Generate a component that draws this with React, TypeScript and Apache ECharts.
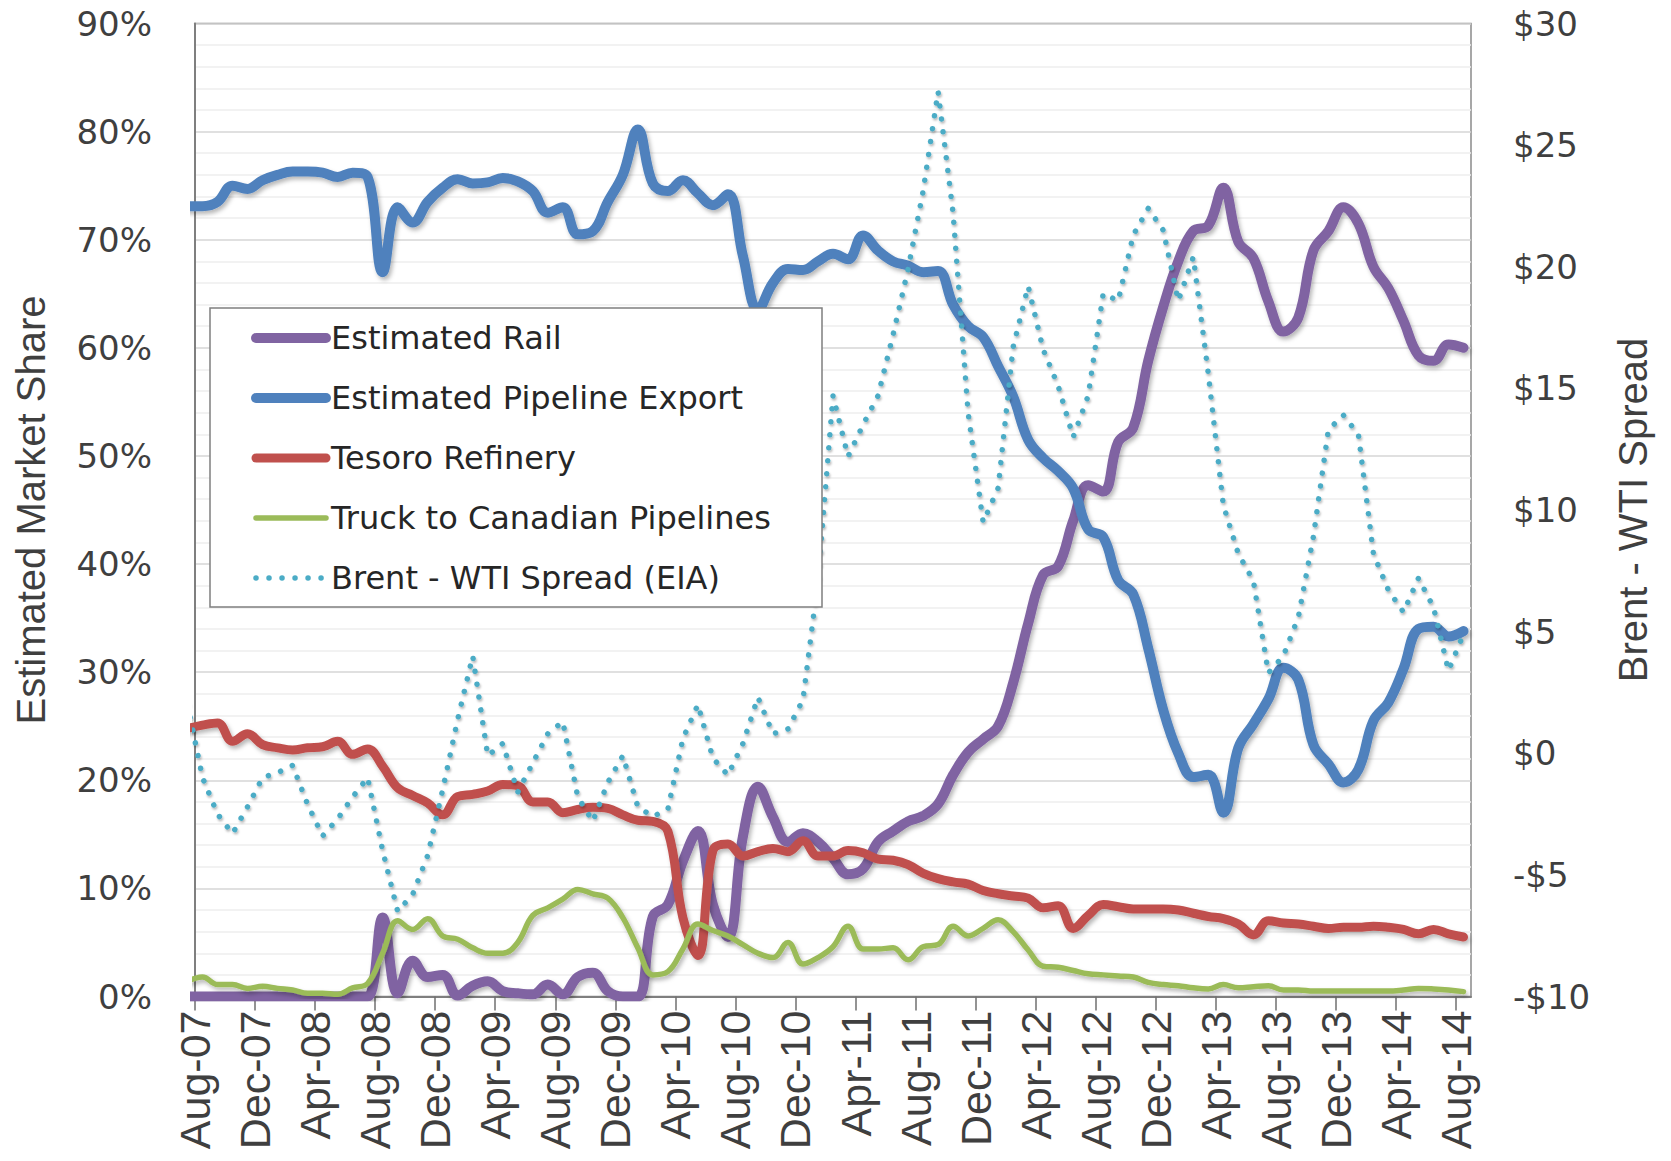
import React, { useEffect, useRef } from "react";
import * as echarts from "echarts";

// ---- Data (monthly, plotted at mid-month; axis starts at Aug-07 on the 1st) ----
const MONTH_NAMES = ["Jan", "Feb", "Mar", "Apr", "May", "Jun", "Jul", "Aug", "Sep", "Oct", "Nov", "Dec"];
const FIRST_DATA_MONTH = "Jul-07";
const LAST_DATA_MONTH = "Aug-14";

const tickLabels = [
  "Aug-07", "Dec-07", "Apr-08", "Aug-08", "Dec-08", "Apr-09", "Aug-09", "Dec-09",
  "Apr-10", "Aug-10", "Dec-10", "Apr-11", "Aug-11", "Dec-11", "Apr-12", "Aug-12",
  "Dec-12", "Apr-13", "Aug-13", "Dec-13", "Apr-14", "Aug-14",
];

// Estimated market share (%)
const rail = [
  0,
  0, 0, 0, 0, 0, 0, 0, 0, 0, 0, 0, 0,
  7.3, 0.3, 3.3, 1.8, 2.0, 0.1, 1.0, 1.4, 0.5, 0.3, 0.2, 1.1, 0.2, 1.8, 2.2, 0.5,
  0, 0, 7.4, 8.5, 12.5, 15.3, 8.5, 5.5, 14.8, 19.4, 16.6, 14.3, 15.1, 14.3, 12.8, 11.3, 11.8,
  14.3, 15.3, 16.2, 16.7, 17.8, 20.5, 22.6, 23.8, 25.0, 29.0, 34.5, 39.0, 39.8, 44.0, 47.3, 46.7,
  51.3, 52.6, 58.8, 63.8, 68.0, 70.8, 71.3, 74.8, 69.8, 68.3, 64.3, 61.5, 62.8, 69.0, 70.8, 73.0,
  71.5, 67.5, 65.5, 62.5, 59.3, 58.8, 60.3, 60.0,
];

const pipelineExport = [
  73.1,
  73.1, 73.5, 75.0, 74.7, 75.5, 76.0, 76.3, 76.3, 76.2, 75.8, 76.2, 75.8,
  67.0, 73.0, 71.6, 73.5, 74.8, 75.6, 75.2, 75.3, 75.7, 75.4, 74.5, 72.5, 73.0, 70.5, 70.8, 73.5,
  76.0, 80.2, 75.2, 74.5, 75.5, 74.3, 73.2, 74.2, 68.5, 63.5, 66.0, 67.3, 67.2, 68.0, 68.7, 68.2, 70.4,
  69.0, 68.0, 67.6, 67.0, 67.1, 64.0, 62.0, 61.0, 58.3, 55.5, 51.5, 49.8, 48.6, 47.0, 43.2, 42.5,
  38.5, 37.2, 32.2, 26.5, 22.5, 20.3, 20.5, 17.0, 23.0, 25.2, 27.5, 30.4, 29.3, 23.3, 21.5, 19.8,
  21.0, 25.5, 27.2, 30.3, 34.0, 34.2, 33.3, 33.8,
];

const tesoro = [
  24.8,
  25.1, 25.3, 23.6, 24.3, 23.3, 23.0, 22.8, 23.0, 23.1, 23.6, 22.4, 22.9,
  21.3, 19.3, 18.6, 17.9, 16.8, 18.5, 18.7, 19.0, 19.6, 19.5, 18.0, 18.0, 17.0, 17.3, 17.5, 17.4,
  16.8, 16.3, 16.2, 15.3, 7.3, 3.8, 13.5, 14.1, 13.0, 13.4, 13.7, 13.4, 14.4, 13.0, 13.0, 13.5, 13.3,
  12.7, 12.6, 12.2, 11.4, 10.9, 10.6, 10.4, 9.8, 9.5, 9.3, 9.1, 8.2, 8.4, 6.3, 7.5, 8.5,
  8.3, 8.1, 8.1, 8.1, 8.0, 7.7, 7.4, 7.2, 6.7, 5.7, 7.0, 6.8, 6.7, 6.5, 6.3, 6.4,
  6.4, 6.5, 6.4, 6.2, 5.8, 6.2, 5.8, 5.5,
];

const truck = [
  1.4,
  1.8, 1.1, 1.1, 0.75, 0.95, 0.75, 0.6, 0.3, 0.3, 0.2, 0.8, 1.2,
  4.0, 7.0, 6.2, 7.2, 5.6, 5.3, 4.5, 4.0, 4.0, 5.0, 7.5, 8.2, 9.0, 9.9, 9.5, 9.1,
  7.3, 4.5, 2.0, 2.3, 4.4, 6.7, 6.1, 5.6, 4.8, 4.0, 3.6, 5.0, 3.0, 3.6, 4.6, 6.5, 4.4,
  4.4, 4.5, 3.4, 4.6, 4.8, 6.5, 5.6, 6.3, 7.1, 6.0, 4.3, 2.8, 2.7, 2.4, 2.1, 2.0,
  1.9, 1.8, 1.3, 1.1, 1.0, 0.8, 0.7, 1.1, 0.8, 0.9, 1.0, 0.6, 0.6, 0.5, 0.5, 0.5,
  0.5, 0.5, 0.5, 0.6, 0.75, 0.7, 0.6, 0.45,
];

// Brent - WTI spread ($/bbl), right axis
const spread = [
  2.0,
  -1.0, -2.5, -3.3, -2.2, -1.0, -0.8, -0.5, -2.1, -3.4, -2.7, -1.8, -1.0,
  -4.0, -6.5, -5.8, -4.2, -1.5, 1.4, 4.0, -0.1, 0.4, -1.6, -0.4, 0.8, 1.3, -1.8, -2.8, -1.2,
  -0.1, -2.2, -2.6, -2.3, 0.6, 2.0, -0.2, -0.9, 0.4, 2.3, 0.8, 1.0, 2.2, 7.1, 14.7, 12.2, 13.5,
  14.7, 17.2, 19.9, 23.1, 27.2, 22.2, 14.0, 9.5, 10.9, 16.7, 19.2, 16.6, 15.1, 13.0, 14.7, 18.9,
  18.6, 21.3, 22.4, 21.5, 18.6, 20.4, 15.6, 10.2, 8.2, 7.1, 3.3, 4.0, 5.6, 8.9, 13.3, 13.9,
  13.1, 8.2, 6.7, 5.8, 7.2, 6.0, 3.4, 4.9,
];

const seriesNames = [
  "Estimated Rail",
  "Estimated Pipeline Export",
  "Tesoro Refinery",
  "Truck to Canadian Pipelines",
  "Brent - WTI Spread (EIA)",
];

// ---- helpers ----
function monthOffset(label: string): number {
  const [mon, yy] = label.split("-");
  const year = 2000 + parseInt(yy, 10);
  return (year - 2007) * 12 + (MONTH_NAMES.indexOf(mon) - 7); // 0 = Aug-07
}
function labelFromOffset(off: number): string {
  const total = 2007 * 12 + 7 + off;
  const y = Math.floor(total / 12);
  const m = total - y * 12;
  return MONTH_NAMES[m] + "-" + String(y % 100).padStart(2, "0");
}
const dataMonths: string[] = [];
for (let o = monthOffset(FIRST_DATA_MONTH); o <= monthOffset(LAST_DATA_MONTH); o++) {
  dataMonths.push(labelFromOffset(o));
}
const axisMax = monthOffset(LAST_DATA_MONTH) + 1; // Sep-14
const tickValues = tickLabels.map(monthOffset);
const midMonth = (label: string) => monthOffset(label) + 0.5;
const toPairs = (vals: number[]) => dataMonths.map((m, i) => [midMonth(m), vals[i]]);

const shadow = {
  shadowColor: "rgba(0,0,0,0.28)",
  shadowBlur: 4,
  shadowOffsetX: 2,
  shadowOffsetY: 3,
};

const AXIS_TEXT = "#3f3f3f";
const WIDE_FONT = "'DejaVu Sans', Verdana, sans-serif";
const TALL_FONT = "'Liberation Sans', Arial, sans-serif";

export default function App() {
  const ref = useRef<HTMLDivElement>(null);

  useEffect(() => {
    document.body.style.margin = "0";
    if (!ref.current) return;
    const chart = echarts.init(ref.current, undefined, { renderer: "svg" });

    const lineSeries = (
      name: string,
      vals: number[],
      color: string,
      width: number,
      yAxisIndex = 0,
      extra: any = {}
    ) => ({
      name,
      type: "line",
      yAxisIndex,
      data: toPairs(vals),
      smooth: 0.4,
      symbol: "none",
      showSymbol: false,
      clip: true,
      itemStyle: { color },
      lineStyle: { color, width, cap: "round", join: "round", ...shadow },
      emphasis: { disabled: true },
      ...extra,
    });

    const option: any = {
      animation: false,
      backgroundColor: "#ffffff",
      grid: {
        left: 195,
        right: 200,
        top: 23.5,
        bottom: 164.5,
        show: true,
        borderColor: "#8a8a8a",
        borderWidth: 1.5,
        backgroundColor: "#ffffff",
      },
      xAxis: {
        type: "value",
        min: 0,
        max: axisMax,
        axisLine: { show: true, onZero: false, lineStyle: { color: "#7f7f7f", width: 2 } },
        axisTick: {
          show: true,
          length: 14,
          customValues: tickValues,
          lineStyle: { color: "#6f6f6f", width: 1.5 },
        },
        axisLabel: {
          customValues: tickValues,
          rotate: 90,
          margin: 14,
          fontSize: 43,
          fontFamily: TALL_FONT,
          color: AXIS_TEXT,
          formatter: (v: number) => labelFromOffset(Math.round(v)),
        },
        splitLine: { show: false },
      },
      yAxis: [
        {
          type: "value",
          min: 0,
          max: 90,
          interval: 10,
          position: "left",
          name: "Estimated Market Share",
          nameLocation: "middle",
          nameRotate: 90,
          nameGap: 144,
          nameTextStyle: { fontSize: 40, fontFamily: TALL_FONT, color: AXIS_TEXT },
          axisLine: { show: true, lineStyle: { color: "#7f7f7f", width: 2 } },
          axisTick: { show: false },
          axisLabel: {
            margin: 43,
            fontSize: 34,
            fontFamily: WIDE_FONT,
            color: AXIS_TEXT,
            formatter: (v: number) => `${v}%`,
          },
          splitLine: { show: true, lineStyle: { color: "#d6d6d6", width: 1.5 } },
          minorTick: { show: false, splitNumber: 5 },
          minorSplitLine: { show: true, lineStyle: { color: "#eeeeee", width: 1.5 } },
        },
        {
          type: "value",
          min: -10,
          max: 30,
          interval: 5,
          position: "right",
          name: "Brent - WTI Spread",
          nameLocation: "middle",
          nameRotate: 90,
          nameGap: 142,
          nameTextStyle: { fontSize: 40, fontFamily: TALL_FONT, color: AXIS_TEXT },
          axisLine: { show: false },
          axisTick: { show: false },
          axisLabel: {
            margin: 42,
            fontSize: 34,
            fontFamily: WIDE_FONT,
            color: AXIS_TEXT,
            formatter: (v: number) => (v < 0 ? `-$${-v}` : `$${v}`),
          },
          splitLine: { show: false },
        },
      ],
      legend: {
        orient: "vertical",
        left: 251,
        top: 322,
        padding: 0,
        itemWidth: 70,
        itemHeight: 30,
        itemGap: 28,
        selectedMode: false,
        data: seriesNames,
        textStyle: { fontSize: 32, fontFamily: WIDE_FONT, color: "#262626" },
        itemStyle: { opacity: 0, borderWidth: 0 },
        lineStyle: { width: "inherit", type: "inherit", cap: "inherit", shadowBlur: 0, shadowOffsetX: 0, shadowOffsetY: 0 },
        z: 5,
      },
      graphic: [
        {
          type: "rect",
          z: 4,
          shape: { x: 210, y: 308, width: 612, height: 299 },
          style: { fill: "#ffffff", stroke: "#7f7f7f", lineWidth: 1.5 },
          silent: true,
        },
      ],
      series: [
        lineSeries(seriesNames[0], rail, "#8064a2", 10),
        lineSeries(seriesNames[1], pipelineExport, "#4f81bd", 10),
        lineSeries(seriesNames[2], tesoro, "#c0504d", 9),
        lineSeries(seriesNames[3], truck, "#9bbb59", 5.5),
        lineSeries(seriesNames[4], spread, "#4bacc6", 5.5, 1, {
          smooth: false,
          lineStyle: {
            color: "#4bacc6",
            width: 5.5,
            type: [0.01, 13],
            cap: "round",
            join: "round",
            ...shadow,
            shadowBlur: 2,
            shadowOffsetY: 2,
            shadowOffsetX: 1,
          },
        }),
      ],
    };

    chart.setOption(option);
    return () => chart.dispose();
  }, []);

  return <div ref={ref} style={{ width: 1671, height: 1161 }} />;
}
